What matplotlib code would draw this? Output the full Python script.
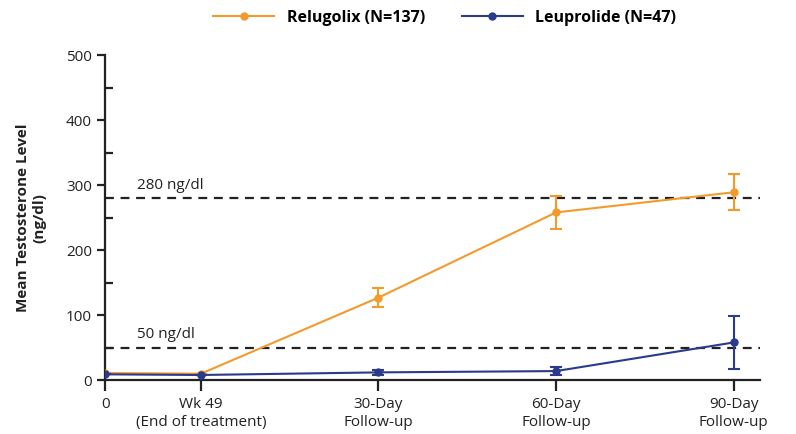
import numpy as np
import matplotlib.pyplot as plt
from matplotlib.ticker import MultipleLocator
from matplotlib.lines import Line2D

plt.rcParams['font.family'] = ['Open Sans', 'DejaVu Sans']

# x positions (Wk 49 sits closer to baseline than the follow-up visits)
x_pos = [0, 0.54, 1.54, 2.54, 3.54]
x_labels = ['0', 'Wk 49\n(End of treatment)', '30-Day\nFollow-up', '60-Day\nFollow-up', '90-Day\nFollow-up']

relugolix = [11, 10, 127, 258, 289]
relugolix_err = [0, 0, 15, 26, 28]
leuprolide = [9, 8, 12, 14, 58]
leuprolide_err = [0, 0, 4, 6, 41]

thresholds = [280, 50]
threshold_labels = ['280 ng/dl', '50 ng/dl']

orange = '#F39A2C'
navy = '#2A3A8C'

fig = plt.figure(figsize=(7.96, 4.34), dpi=100)
ax = fig.add_axes([0.132, 0.124, 0.823, 0.749])

for t, lab in zip(thresholds, threshold_labels):
    ax.axhline(t, color='#222222', ls=(0, (4, 3)), lw=1.6, zorder=1)
    ax.text(0.18, t + 8, lab, fontsize=11, color='#222222', va='bottom')

ax.errorbar(x_pos, relugolix, yerr=relugolix_err, color=orange, marker='o', ms=5,
            lw=1.5, capsize=4, capthick=1.5, elinewidth=1.5, zorder=3)
ax.errorbar(x_pos, leuprolide, yerr=leuprolide_err, color=navy, marker='o', ms=5,
            lw=1.5, capsize=4, capthick=1.5, elinewidth=1.5, zorder=4)

ax.set_xlim(0, 3.69)
ax.set_ylim(0, 500)
ax.set_xticks(x_pos)
ax.set_xticklabels(x_labels, fontsize=11, color='#222222', linespacing=1.3)
ax.yaxis.set_major_locator(MultipleLocator(100))
ax.yaxis.set_minor_locator(MultipleLocator(50))
ax.tick_params(axis='y', which='major', direction='out', length=6, width=1.6, labelsize=11, colors='#222222')
ax.tick_params(axis='y', which='minor', direction='in', length=6, width=1.6, colors='#222222')
ax.tick_params(axis='x', direction='out', length=8, width=1.6, pad=4, colors='#222222')

for s in ['top', 'right']:
    ax.spines[s].set_visible(False)
for s in ['left', 'bottom']:
    ax.spines[s].set_linewidth(1.6)
    ax.spines[s].set_color('#222222')

ax.set_ylabel('Mean Testosterone Level\n(ng/dl)', fontsize=11, fontweight='bold', color='#222222', labelpad=14)

handles = [Line2D([], [], color=orange, marker='o', ms=5, lw=1.5),
           Line2D([], [], color=navy, marker='o', ms=5, lw=1.5)]
fig.legend(handles, ['Relugolix (N=137)', 'Leuprolide (N=47)'], loc='upper center',
           bbox_to_anchor=(0.559, 1.01), ncol=2, frameon=False,
           prop={'weight': 'bold', 'size': 11.5}, handlelength=3.8, columnspacing=2.3)

fig.savefig('out.png', dpi=100)
